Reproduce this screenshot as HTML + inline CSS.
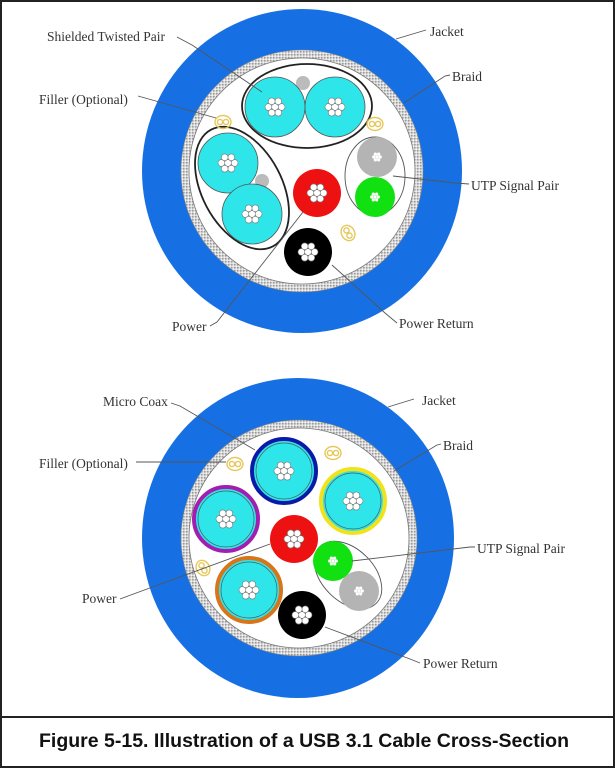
<!DOCTYPE html>
<html><head><meta charset="utf-8"><style>
html,body{margin:0;padding:0;background:#fff}
svg{display:block}
.l{font-family:"Liberation Serif",serif;font-size:13.5px;fill:#333}
.ln{stroke:#555;stroke-width:0.9;fill:none}
</style></head><body>
<svg width="615" height="768" viewBox="0 0 615 768" xmlns="http://www.w3.org/2000/svg">
<defs>
<pattern id="br" width="3" height="3" patternUnits="userSpaceOnUse">
<rect width="3" height="3" fill="#d8d8d8"/><rect width="1.5" height="1.5" fill="#9a9a9a"/><rect x="1.5" y="1.5" width="1.5" height="1.5" fill="#f2f2f2"/>
</pattern>
<g id="st">
<circle cx="0" cy="0" r="3.4" fill="#fff" stroke="#777" stroke-width="0.6"/>
<circle cx="6.6" cy="0" r="3.4" fill="#fff" stroke="#777" stroke-width="0.6"/>
<circle cx="-6.6" cy="0" r="3.4" fill="#fff" stroke="#777" stroke-width="0.6"/>
<circle cx="3.3" cy="5.7" r="3.4" fill="#fff" stroke="#777" stroke-width="0.6"/>
<circle cx="-3.3" cy="5.7" r="3.4" fill="#fff" stroke="#777" stroke-width="0.6"/>
<circle cx="3.3" cy="-5.7" r="3.4" fill="#fff" stroke="#777" stroke-width="0.6"/>
<circle cx="-3.3" cy="-5.7" r="3.4" fill="#fff" stroke="#777" stroke-width="0.6"/>
</g>
<g id="sm">
<circle cx="0" cy="0" r="1.6" fill="#fff"/><circle cx="3.3" cy="0" r="1.6" fill="#fff"/><circle cx="-3.3" cy="0" r="1.6" fill="#fff"/>
<circle cx="1.65" cy="2.9" r="1.6" fill="#fff"/><circle cx="-1.65" cy="2.9" r="1.6" fill="#fff"/><circle cx="1.65" cy="-2.9" r="1.6" fill="#fff"/><circle cx="-1.65" cy="-2.9" r="1.6" fill="#fff"/>
</g>
<g id="fl" fill="none" stroke="#e6c85a" stroke-width="1.4">
<ellipse cx="0" cy="0" rx="8" ry="6.5"/><circle cx="-3" cy="0" r="2.6"/><circle cx="3" cy="0" r="2.6"/>
</g>
</defs>
<rect x="1" y="1" width="613" height="766" fill="#fff" stroke="#222" stroke-width="2"/>
<line x1="0" y1="717" x2="615" y2="717" stroke="#222" stroke-width="2"/>
<text x="39" y="747" textLength="530" lengthAdjust="spacingAndGlyphs" font-family="Liberation Sans, sans-serif" font-weight="bold" font-size="19" fill="#111">Figure 5-15.  Illustration of a USB 3.1 Cable Cross-Section</text>

<!-- TOP -->
<ellipse cx="302" cy="171" rx="160" ry="162" fill="#1670e4"/>
<circle cx="302" cy="171" r="121" fill="url(#br)" stroke="#888" stroke-width="0.6"/>
<circle cx="302" cy="171" r="113" fill="#fff" stroke="#777" stroke-width="0.8"/>
<ellipse cx="307" cy="106" rx="65" ry="42" fill="none" stroke="#222" stroke-width="1.8"/>
<circle cx="303" cy="83" r="7" fill="#bbb"/>
<circle cx="275" cy="107" r="30" fill="#2ee6ea" stroke="#555" stroke-width="0.8"/>
<circle cx="335" cy="107" r="30" fill="#2ee6ea" stroke="#555" stroke-width="0.8"/>
<use href="#st" x="275" y="107"/><use href="#st" x="335" y="107"/>
<ellipse cx="242" cy="188" rx="66" ry="40" transform="rotate(62 242 188)" fill="none" stroke="#222" stroke-width="1.8"/>
<circle cx="262" cy="181" r="7" fill="#bbb"/>
<circle cx="228" cy="163" r="30" fill="#2ee6ea" stroke="#555" stroke-width="0.8"/>
<circle cx="252" cy="214" r="30" fill="#2ee6ea" stroke="#555" stroke-width="0.8"/>
<use href="#st" x="228" y="163"/><use href="#st" x="252" y="214"/>
<circle cx="317" cy="193" r="24" fill="#ee1111"/><use href="#st" x="317" y="193"/>
<circle cx="308" cy="252" r="24" fill="#000"/><use href="#st" x="308" y="252"/>
<ellipse cx="375" cy="176" rx="30" ry="39" fill="none" stroke="#555" stroke-width="0.9"/>
<circle cx="377" cy="157" r="20" fill="#b4b4b4"/><use href="#sm" x="377" y="157"/>
<circle cx="375" cy="197" r="20" fill="#11e011"/><use href="#sm" x="375" y="197"/>
<use href="#fl" x="223" y="122"/><use href="#fl" x="375" y="124"/><use href="#fl" x="348" y="233" transform="rotate(60 348 233)"/>

<text class="l" x="47" y="41">Shielded Twisted Pair</text>
<polyline class="ln" points="177,37 192,45 262,92"/>
<text class="l" x="430" y="36">Jacket</text>
<line class="ln" x1="426" y1="30" x2="396" y2="39"/>
<text class="l" x="452" y="81">Braid</text>
<polyline class="ln" points="450,75 445,76 404,103"/>
<text class="l" x="39" y="104">Filler (Optional)</text>
<line class="ln" x1="138" y1="96" x2="216" y2="118"/>
<text class="l" x="471" y="190">UTP Signal Pair</text>
<polyline class="ln" points="469,184 455,183 393,176"/>
<text class="l" x="172" y="331">Power</text>
<polyline class="ln" points="210,326 217,322 303,212"/>
<text class="l" x="399" y="328">Power Return</text>
<polyline class="ln" points="397,323 385,313 332,265"/>

<!-- BOTTOM -->
<ellipse cx="298" cy="538" rx="156" ry="160" fill="#1670e4"/>
<circle cx="299" cy="538" r="118" fill="url(#br)" stroke="#888" stroke-width="0.6"/>
<circle cx="299" cy="538" r="110" fill="#fff" stroke="#777" stroke-width="0.8"/>
<circle cx="284" cy="471" r="32" fill="#2ee6ea" stroke="#0a1aa8" stroke-width="4"/>
<circle cx="284" cy="471" r="28" fill="none" stroke="#555" stroke-width="0.7"/>
<circle cx="353" cy="501" r="32" fill="#2ee6ea" stroke="#f2e21a" stroke-width="4"/>
<circle cx="353" cy="501" r="28" fill="none" stroke="#555" stroke-width="0.7"/>
<circle cx="226" cy="519" r="32" fill="#2ee6ea" stroke="#a21eb0" stroke-width="4"/>
<circle cx="226" cy="519" r="28" fill="none" stroke="#555" stroke-width="0.7"/>
<circle cx="249" cy="590" r="32" fill="#2ee6ea" stroke="#d8741a" stroke-width="4"/>
<circle cx="249" cy="590" r="28" fill="none" stroke="#555" stroke-width="0.7"/>
<use href="#st" x="284" y="471"/><use href="#st" x="353" y="501"/><use href="#st" x="226" y="519"/><use href="#st" x="249" y="590"/>
<circle cx="294" cy="539" r="24" fill="#ee1111"/><use href="#st" x="294" y="539"/>
<circle cx="302" cy="615" r="24" fill="#000"/><use href="#st" x="302" y="615"/>
<ellipse cx="348" cy="575" rx="26" ry="40" transform="rotate(-45 348 575)" fill="none" stroke="#555" stroke-width="0.9"/>
<circle cx="333" cy="561" r="20" fill="#11e011"/><use href="#sm" x="333" y="561"/>
<circle cx="359" cy="591" r="20" fill="#b4b4b4"/><use href="#sm" x="359" y="591"/>
<use href="#fl" x="235" y="464"/><use href="#fl" x="333" y="453"/><use href="#fl" x="203" y="568" transform="rotate(60 203 568)"/>

<text class="l" x="103" y="406">Micro Coax</text>
<polyline class="ln" points="171,403 180,406 255,450"/>
<text class="l" x="422" y="405">Jacket</text>
<line class="ln" x1="414" y1="399" x2="388" y2="407"/>
<text class="l" x="443" y="450">Braid</text>
<polyline class="ln" points="441,444 437,445 394,471"/>
<text class="l" x="39" y="468">Filler (Optional)</text>
<line class="ln" x1="136" y1="462" x2="226" y2="462"/>
<text class="l" x="477" y="553">UTP Signal Pair</text>
<polyline class="ln" points="475,547 470,547 352,561"/>
<text class="l" x="82" y="603">Power</text>
<polyline class="ln" points="120,599 128,596 270,544"/>
<text class="l" x="423" y="668">Power Return</text>
<polyline class="ln" points="420,663 410,659 325,627"/>
</svg>
</body></html>
